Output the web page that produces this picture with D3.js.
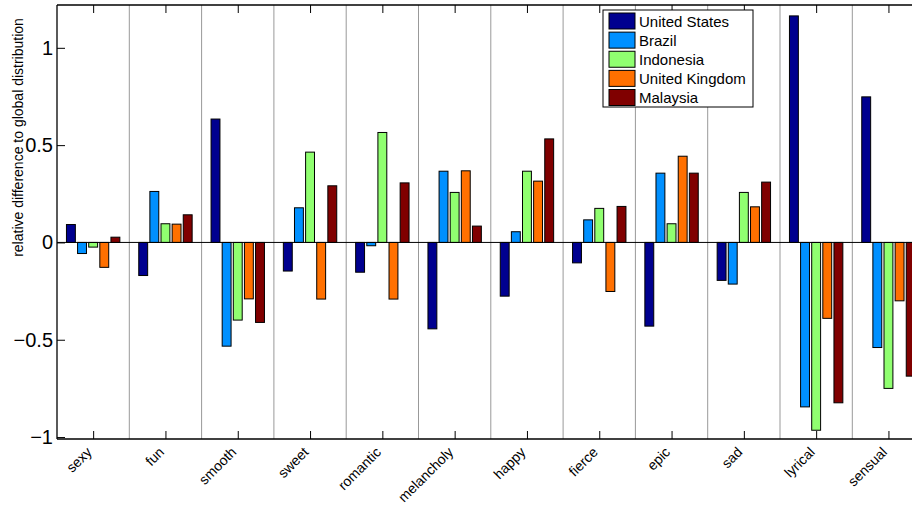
<!DOCTYPE html>
<html>
<head>
<meta charset="utf-8">
<script src="https://cdn.jsdelivr.net/npm/d3@7"></script>
<style>
html,body{margin:0;padding:0;background:#fff;}
svg{display:block;font-family:"Liberation Sans",Arial,Helvetica,sans-serif;}
</style>
</head>
<body>
<svg id="chart" width="912" height="507"></svg>
<script>
const categories = ["sexy","fun","smooth","sweet","romantic","melancholy","happy","fierce","epic","sad","lyrical","sensual"];
const seriesNames = ["United States","Brazil","Indonesia","United Kingdom","Malaysia"];
const seriesColors = ["#00008f","#0090ff","#90ff70","#ff7000","#800000"];
const unitedStates  = [0.092, -0.170, 0.634, -0.147, -0.153, -0.444, -0.276, -0.105, -0.430, -0.195, 1.164, 0.748];
const brazil        = [-0.057, 0.262, -0.533, 0.178, -0.017, 0.366, 0.055, 0.116, 0.356, -0.214, -0.845, -0.540];
const indonesia     = [-0.024, 0.096, -0.399, 0.464, 0.565, 0.257, 0.366, 0.175, 0.096, 0.257, -0.965, -0.750];
const unitedKingdom = [-0.128, 0.094, -0.290, -0.291, -0.291, 0.368, 0.315, -0.252, 0.443, 0.183, -0.390, -0.300];
const malaysia      = [0.027, 0.142, -0.411, 0.291, 0.306, 0.084, 0.532, 0.185, 0.356, 0.310, -0.824, -0.687];
const seriesValues = [unitedStates, brazil, indonesia, unitedKingdom, malaysia];
const yTickValues = [-1, -0.5, 0, 0.5, 1];
const yTickLabels = ["\u22121", "\u22120.5", "0", "0.5", "1"];
const yLabel = "relative difference to global distribution";

(function () {
const svg = d3.select("#chart");
const pLeft = 57, pTop = 5, pBottom = 439;
const n = categories.length;
const unitPx = 72.3;
const x = d3.scaleLinear().domain([0.5, n + 0.5]).range([pLeft, pLeft + n * unitPx]);
const y = d3.scaleLinear().domain([-1.01, 1.22]).range([pBottom, pTop]);
const pRight = x(n + 0.5);

// separators
const seps = d3.range(1, n).map(i => i + 0.5);
svg.append("g").selectAll("line").data(seps).join("line")
  .attr("x1", d => x(d)).attr("x2", d => x(d))
  .attr("y1", pTop).attr("y2", pBottom)
  .attr("stroke", "#999").attr("stroke-width", 1);

// bars
const nS = seriesValues.length;
const groupW = Math.min(0.8, nS / (nS + 1.5));
const step = groupW / nS;
const barW = step * 0.8;
const bars = svg.append("g");
seriesValues.forEach((vals, s) => {
  bars.append("g").selectAll("rect").data(vals).join("rect")
    .attr("x", (d, i) => x(i + 1 - groupW / 2 + step * (s + 0.5) - barW / 2))
    .attr("width", x(barW) - x(0))
    .attr("y", d => y(Math.max(0, d)))
    .attr("height", d => Math.abs(y(d) - y(0)))
    .attr("fill", seriesColors[s])
    .attr("stroke", "#000").attr("stroke-width", 1);
});

// zero line
svg.append("line").attr("x1", pLeft).attr("x2", pRight)
  .attr("y1", y(0)).attr("y2", y(0)).attr("stroke", "#000").attr("stroke-width", 1);

// axes
const xAxisB = d3.axisBottom(x).tickValues(d3.range(1, n + 1)).tickSize(-8).tickFormat("");
const gxb = svg.append("g").attr("transform", `translate(0,${pBottom})`).call(xAxisB);
const xAxisT = d3.axisTop(x).tickValues(d3.range(1, n + 1)).tickSize(-8).tickFormat("");
const gxt = svg.append("g").attr("transform", `translate(0,${pTop})`).call(xAxisT);
const yAxisL = d3.axisLeft(y).tickValues(yTickValues).tickSize(-8).tickPadding(4)
  .tickFormat((d, i) => yTickLabels[i]);
const gyl = svg.append("g").attr("transform", `translate(${pLeft},0)`).call(yAxisL);
[gxb, gxt, gyl].forEach(g => {
  g.select(".domain").attr("stroke", "#000").attr("stroke-width", 1.3);
  g.selectAll(".tick line").attr("stroke", "#000");
});
gyl.select(".domain").attr("d", `M0,${pTop}V${pBottom}`);
gxb.select(".domain").attr("d", `M${pLeft},0H${pRight}`);
gxt.select(".domain").attr("d", `M${pLeft},0H${pRight}`);
gyl.selectAll(".tick text").attr("font-size", 20).attr("fill", "#000")
  .attr("font-family", "Liberation Sans, Arial, sans-serif");

// x labels rotated
svg.append("g").selectAll("text").data(categories).join("text")
  .attr("transform", (d, i) => `translate(${x(i + 1) - 0.5},${pBottom + 14}) rotate(-45)`)
  .attr("text-anchor", "end")
  .attr("font-size", 14)
  .attr("fill", "#000")
  .text(d => d);

// y label
svg.append("text")
  .attr("transform", `translate(23,137.5) rotate(-90)`)
  .attr("text-anchor", "middle")
  .attr("font-size", 14)
  .attr("fill", "#000")
  .text(yLabel);

// legend
const lg = svg.append("g");
lg.append("rect").attr("x", 603).attr("y", 10).attr("width", 150).attr("height", 97)
  .attr("fill", "#fff").attr("stroke", "#000").attr("stroke-width", 1);
const rowY = d3.scaleLinear().domain([0, 4]).range([21, 97.5]);
seriesNames.forEach((name, i) => {
  lg.append("rect").attr("x", 609).attr("y", rowY(i) - 8).attr("width", 26).attr("height", 16)
    .attr("fill", seriesColors[i]).attr("stroke", "#000").attr("stroke-width", 1);
  lg.append("text").attr("x", 639).attr("y", rowY(i) + 5.5).attr("font-size", 15)
    .attr("fill", "#000").text(name);
});
})();
</script>
</body>
</html>
